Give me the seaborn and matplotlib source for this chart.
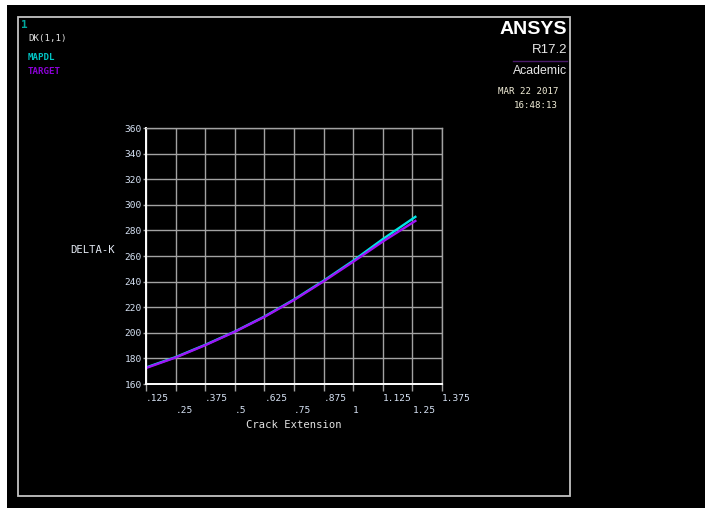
import numpy as np
import pandas as pd
import matplotlib
matplotlib.use("Agg")
import matplotlib.pyplot as plt
from matplotlib.patches import Rectangle
from matplotlib.lines import Line2D
import seaborn as sns

# ---- data -------------------------------------------------------------
crack_extension = [0.125, 0.25, 0.375, 0.5, 0.625, 0.75, 0.875, 1.0, 1.125, 1.2625]
mapdl_dk = [172.9, 181.0, 190.6, 201.0, 212.7, 226.0, 240.7, 256.3, 273.2, 290.6]
target_dk = [172.5, 180.7, 190.3, 200.8, 212.4, 225.6, 240.2, 255.5, 271.3, 287.4]
series_names = ["MAPDL", "TARGET"]

x_ticks = [0.125, 0.25, 0.375, 0.5, 0.625, 0.75, 0.875, 1.0, 1.125, 1.25, 1.375]
x_tick_labels = [".125", ".25", ".375", ".5", ".625", ".75", ".875", "1",
                 "1.125", "1.25", "1.375"]
y_ticks = [160, 180, 200, 220, 240, 260, 280, 300, 320, 340, 360]

df = pd.DataFrame({
    "Crack Extension": crack_extension * 2,
    "DELTA-K": mapdl_dk + target_dk,
    "curve": [series_names[0]] * len(crack_extension) + [series_names[1]] * len(crack_extension),
})

# ---- styling -----------------------------------------------------------
W, H = 705, 508
MONO = ["DejaVu Sans Mono"]
CYAN = "#00e6e6"
PURPLE = "#9e14f8"
GRID = "#a2a2a2"
LABEL = "#d6e2f4"

plt.rcParams["font.family"] = MONO


def fx(px):
    return px / W


def fy(py):
    return 1 - py / H


fig = plt.figure(figsize=(W / 100, H / 100), dpi=100, facecolor="white")

# black graphics window and its frame
fig.patches.append(Rectangle((fx(7), 0), 1 - fx(7), fy(5), transform=fig.transFigure,
                             facecolor="black", edgecolor="none", zorder=-10))
fig.patches.append(Rectangle((fx(18), fy(496)), fx(570) - fx(18), fy(17) - fy(496),
                             transform=fig.transFigure, facecolor="none",
                             edgecolor="#c4c4c4", linewidth=1.3, zorder=-5))

ax = fig.add_axes([fx(146), fy(384), fx(442) - fx(146), fy(128) - fy(384)])
ax.set_facecolor("black")

sns.lineplot(data=df, x="Crack Extension", y="DELTA-K", hue="curve",
             palette={"MAPDL": CYAN, "TARGET": PURPLE}, linewidth=1.7,
             legend=False, ax=ax, estimator=None, sort=True)

ax.set_xlim(0.125, 1.375)
ax.set_ylim(160, 360)
ax.set_xticks(x_ticks)
ax.set_xticklabels([lab if i % 2 == 0 else "\n" + lab for i, lab in enumerate(x_tick_labels)],
                   ha="left", linespacing=1.35)
ax.set_yticks(y_ticks)
ax.tick_params(axis="x", colors=GRID, labelcolor=LABEL, labelsize=6.8,
               length=5, width=1, pad=2.5)
ax.tick_params(axis="y", colors=GRID, labelcolor=LABEL, labelsize=6.8,
               length=2.5, width=1, pad=0.5)
ax.grid(True, color=GRID, linewidth=1.0)
ax.set_axisbelow(True)

for side in ("left", "bottom"):
    ax.spines[side].set_color("white")
    ax.spines[side].set_linewidth(1.4)
for side in ("top", "right"):
    ax.spines[side].set_color(GRID)
    ax.spines[side].set_linewidth(1.0)

ax.set_xlabel("Crack Extension", color="#e2e2e2", fontsize=7.6, va="center")
ax.xaxis.set_label_coords(0.5, (384 - 425) / 256)
ax.set_ylabel("DELTA-K", color="#e2e8f2", fontsize=7.6, rotation=0,
              ha="left", va="center")
ax.yaxis.set_label_coords((70 - 146) / 296, (384 - 250) / 256)

# ---- header annotations ------------------------------------------------
fig.text(fx(20.5), fy(25), "1", color="#00a89c", fontsize=8, fontweight="bold",
         va="center", ha="left")
fig.text(fx(28), fy(38), "DK(1,1)", color="#e0e0e0", fontsize=6.6, va="center", ha="left")
fig.text(fx(28), fy(57.5), "MAPDL", color="#00c4c4", fontsize=6.6, fontweight="bold",
         va="center", ha="left")
fig.text(fx(28), fy(71), "TARGET", color="#8c00d8", fontsize=6.6, fontweight="bold",
         va="center", ha="left")

SANS = ["Liberation Sans"]
fig.text(fx(567), fy(29), "ANSYS", color="white", fontsize=14, fontweight="bold",
         family=SANS, va="center", ha="right")
fig.text(fx(567), fy(50), "R17.2", color="#e8e8e8", fontsize=9.5,
         family=SANS, va="center", ha="right")
fig.add_artist(Line2D([fx(513), fx(567)], [fy(61), fy(61)], transform=fig.transFigure,
                      color="#4a1a6a", linewidth=1.0))
fig.text(fx(567), fy(70.5), "Academic", color="#e8e8e8", fontsize=8.8,
         family=SANS, va="center", ha="right")
fig.text(fx(498), fy(91), "MAR 22 2017", color="#f2eed8", fontsize=6.6, va="center", ha="left")
fig.text(fx(558), fy(105), "16:48:13", color="#f2eed8", fontsize=6.6, va="center", ha="right")

fig.savefig("out.png", dpi=100, facecolor=fig.get_facecolor())
